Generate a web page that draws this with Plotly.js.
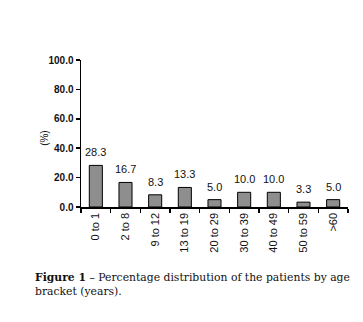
<!DOCTYPE html>
<html><head><meta charset="utf-8">
<script src="https://cdn.plot.ly/plotly-3.0.1.min.js"></script>
<style>html,body{margin:0;padding:0;background:#fff;}</style>
</head><body>
<div id="chart" style="width:363px;height:322px;"></div>
<script>
var categories = ["0 to 1","2 to 8","9 to 12","13 to 19","20 to 29","30 to 39","40 to 49","50 to 59",">60"];
var percentages = [28.3,16.7,8.3,13.3,5.0,10.0,10.0,3.3,5.0];
var yTickValues = [0,20,40,60,80,100];
var yTickLabels = ["0.0","20.0","40.0","60.0","80.0","100.0"];

var trace = {
  type: "bar",
  x: categories,
  y: percentages,
  width: 0.44,
  marker: {color: "#8e8e8e", line: {color: "#000", width: 1}},
  cliponaxis: false,
  hoverinfo: "none"
};

var valueLabels = categories.map(function(c, i){
  return {x: c, y: percentages[i], xref: "x", yref: "y", xanchor: "center", yanchor: "bottom",
    yshift: 5, showarrow: false, text: percentages[i].toFixed(1),
    font: {family: "Liberation Sans, Arial, sans-serif", size: 11, color: "#111"}};
});

var layout = {
  width: 363, height: 322,
  margin: {l: 81, r: 15, t: 60, b: 115},
  paper_bgcolor: "#fff", plot_bgcolor: "#fff",
  showlegend: false,
  bargap: 0,
  xaxis: {
    type: "category",
    showline: true, linecolor: "#000", linewidth: 1.5,
    ticks: "outside", ticklen: 4, tickcolor: "#000", tickwidth: 1.5,
    tickson: "boundaries",
    tickangle: -90,
    tickfont: {family: "Liberation Sans, Arial, sans-serif", size: 11, color: "#111"},
    showgrid: false, zeroline: false, fixedrange: true
  },
  yaxis: {
    range: [0, 100],
    tickvals: yTickValues, ticktext: yTickLabels,
    showline: true, linecolor: "#000", linewidth: 1.5,
    ticks: "outside", ticklen: 4, tickcolor: "#000", tickwidth: 1.5,
    tickfont: {family: "Liberation Sans, Arial, sans-serif", size: 10, color: "#111", weight: "bold"},
    showgrid: false, zeroline: false, fixedrange: true
  },
  annotations: valueLabels.concat([
    {xref: "paper", yref: "paper", x: -0.135, y: 0.47, xanchor: "center", yanchor: "middle",
     showarrow: false, textangle: -90, text: "(%)",
     font: {family: "Liberation Sans, Arial, sans-serif", size: 10, color: "#111"}},
    {xref: "paper", yref: "paper", x: -0.18, y: -0.525, xanchor: "left", yanchor: "middle",
     showarrow: false, align: "left",
     text: "<b>Figure 1</b> – Percentage distribution of the patients by age<br>bracket (years).",
     font: {family: "DejaVu Serif, serif", size: 10.8, color: "#111"}}
  ])
};

Plotly.newPlot("chart", [trace], layout, {displayModeBar: false, staticPlot: true});
</script>
</body></html>
